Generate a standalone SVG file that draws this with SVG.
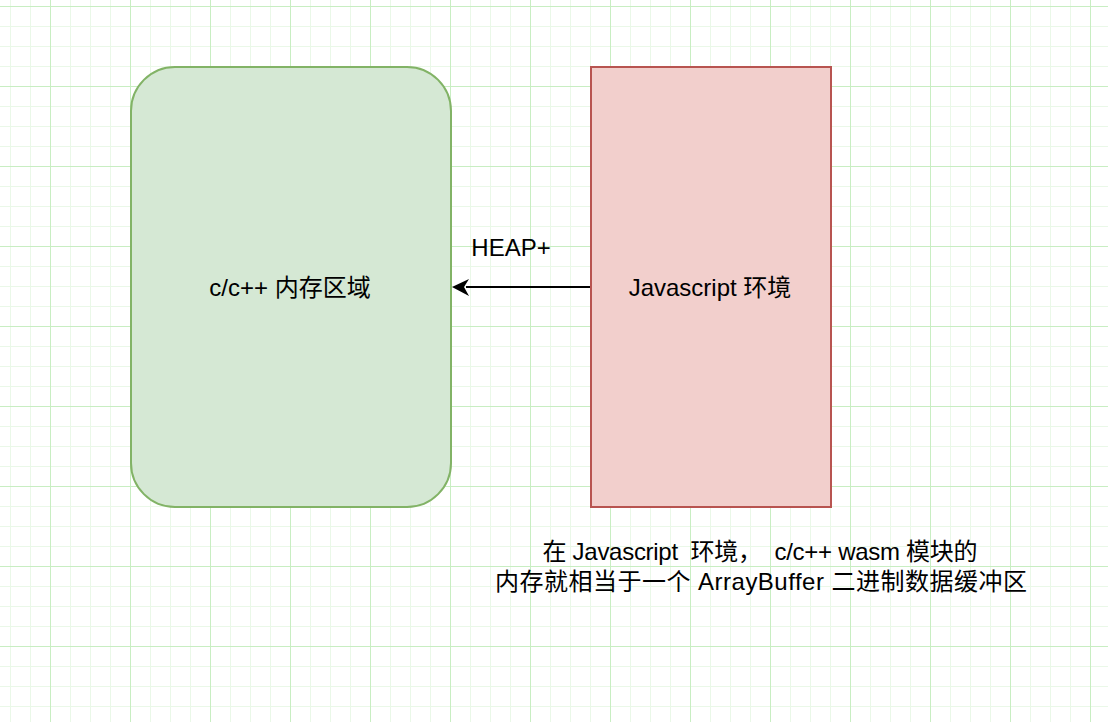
<svg xmlns="http://www.w3.org/2000/svg" width="1108" height="722" viewBox="0 0 1108 722">
  <defs>
    <pattern id="grid" patternUnits="userSpaceOnUse" x="50" y="6" width="80" height="80">
      <rect x="20" y="0" width="1" height="80" fill="#eaf8e8"/>
      <rect x="40" y="0" width="1" height="80" fill="#eaf8e8"/>
      <rect x="60" y="0" width="1" height="80" fill="#eaf8e8"/>
      <rect x="0" y="20" width="80" height="1" fill="#eaf8e8"/>
      <rect x="0" y="40" width="80" height="1" fill="#eaf8e8"/>
      <rect x="0" y="60" width="80" height="1" fill="#eaf8e8"/>
      <rect x="0" y="0" width="1" height="80" fill="#c8eec2"/>
      <rect x="0" y="0" width="80" height="1" fill="#c8eec2"/>
    </pattern>
    <style>
      .t { font-family: "Liberation Sans", Arial, "Noto Sans CJK SC", sans-serif; font-size: 24px; fill: #000; }
    </style>
  </defs>
  <rect width="1108" height="722" fill="#ffffff"/>
  <rect width="1108" height="722" fill="url(#grid)"/>

  <g id="connectors">
    <line x1="591" y1="287" x2="466" y2="287" stroke="#000" stroke-width="2"/>
    <path d="M452,287 L469,279 L464,287 L469,296 Z" fill="#000"/>
    <text class="t" x="511" y="256" text-anchor="middle">HEAP+</text>
  </g>

  <g id="node-cpp">
    <rect x="131" y="67" width="320" height="440" rx="44" ry="44" fill="#d5e8d4" stroke="#82b366" stroke-width="2"/>
    <text class="t" x="290" y="296" text-anchor="middle">c/c++ 内存区域</text>
  </g>

  <g id="node-js">
    <rect x="591" y="67" width="240" height="440" fill="#f2cfcc" stroke="#b85450" stroke-width="2"/>
    <text class="t" x="710" y="296" text-anchor="middle">Javascript 环境</text>
  </g>

  <g id="note">
    <text class="t" x="760" y="560" text-anchor="middle" textLength="435" lengthAdjust="spacing" xml:space="preserve">在 Javascript  环境，  c/c++ wasm 模块的</text>
    <text class="t" x="761" y="590" text-anchor="middle" textLength="532" lengthAdjust="spacing">内存就相当于一个 ArrayBuffer 二进制数据缓冲区</text>
  </g>
</svg>
